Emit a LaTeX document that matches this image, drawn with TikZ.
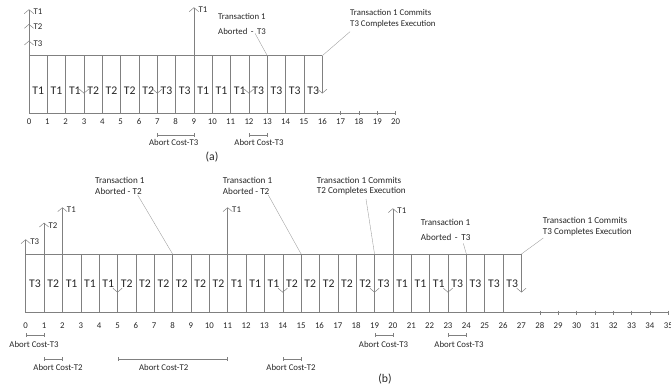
\documentclass[tikz,border=0pt]{standalone}
\usepackage{fontspec}
\setmainfont{Carlito}
\usetikzlibrary{arrows.meta}
\definecolor{linegray}{gray}{0.5}
\definecolor{textgray}{gray}{0.15}

\begin{document}
\begin{tikzpicture}[x=0.03cm, y=-0.03cm, >={Straight Barb[length=1.2mm, width=2.8mm]},
    every node/.style={text=textgray, inner sep=0pt},
    slot/.style={font=\fontsize{10}{12}\selectfont},
    num/.style={font=\fontsize{7.5}{9}\selectfont},
    note/.style={font=\fontsize{7.5}{9}\selectfont, anchor=west},
    bignote/.style={font=\fontsize{7.8}{9}\selectfont, anchor=west},
    rule/.style={draw=linegray, line width=0.4pt},
    lead/.style={draw=linegray!80, line width=0.3pt},
    cost/.style={draw=linegray, line width=0.3pt, {Bar[width=1.1mm]}-{Bar[width=1.1mm]}}]
    \useasboundingbox (0,0) rectangle (671,391);

    % (a)
    \def\aX{29} \def\aD{18.33} \def\aTop{55.7} \def\aBot{113}
    \foreach \i in {0,...,20} {
        \coordinate (at\i) at ({\aX+\aD*\i},\aTop);
        \coordinate (ab\i) at ({\aX+\aD*\i},\aBot);
        \coordinate (av\i) at ({\aX+\aD*\i},93.5);
        \node[num] (an\i) at ({\aX+\aD*\i},122) {\i};
    }
    \draw[rule] (at0) -- (at16);
    \draw[rule] (ab0) -- (ab20);
    \foreach \i in {0,...,15} \draw[rule] (at\i) -- (ab\i);
    \foreach \i in {17,...,20} \draw[rule] ([yshift=0.6mm]ab\i) -- ([yshift=-0.6mm]ab\i);
    \foreach \t [count=\i from 0] in {T1,T1,T1,T2,T2,T2,T2,T3,T3,T1,T1,T1,T3,T3,T3,T3}
        \node[slot] (aslot\i) at ({\aX+\aD*(\i+0.5)},91) {\t};
    \foreach \i in {3,7,12,16} \draw[rule,->] (at\i) -- (av\i);
    \foreach \i/\y/\t in {0/9.3/T1, 0/24/T2, 0/40.7/T3, 9/7.3/T1} {
        \coordinate (au\i\t) at ({\aX+\aD*\i},\y);
        \draw[rule,->] (at\i) -- (au\i\t);
        \node[note] (al\i\t) at ([xshift=1.3mm, yshift=-0.75mm]au\i\t) {\t};
    }

    \node[note] (aabort) at (218,16.7) {Transaction 1};
    \node[note] (aabortb) at (218,31) {Aborted\, - \,T3};
    \coordinate (aabortc) at (255,33.3);
    \draw[lead] (aabortc) -- (at13);
    \node[note] (acommit) at (350,12.3) {Transaction 1 Commits};
    \node[note] (acommitb) at (350,24) {T3 Completes Execution};
    \coordinate (acommitc) at (350,31.7);
    \draw[lead] (at16) -- (acommitc);

    \foreach \l/\r/\c in {7/9/173.7, 12/13/259} {
        \coordinate (akl\l) at ({\aX+\aD*\l},135);
        \coordinate (akr\l) at ({\aX+\aD*\r},135);
        \draw[cost] (akl\l) -- (akr\l);
        \node[num] (akt\l) at (\c,142) {Abort Cost-T3};
    }
    \node[font=\fontsize{10}{12}\selectfont] (capa) at (212,156.7) {(a)};

    % (b)
    \def\bX{25.7} \def\bD{18.36} \def\bTop{254} \def\bBot{312.5}
    \foreach \i in {0,...,35} {
        \coordinate (bt\i) at ({\bX+\bD*\i},\bTop);
        \coordinate (bb\i) at ({\bX+\bD*\i},\bBot);
        \coordinate (bv\i) at ({\bX+\bD*\i},292.5);
        \node[num] (bn\i) at ({\bX+\bD*\i},326) {\i};
    }
    \draw[rule] (bt0) -- (bt27);
    \draw[rule] (bb0) -- (bb35);
    \foreach \i in {0,...,26} \draw[rule] (bt\i) -- (bb\i);
    \foreach \i in {28,...,35} \draw[rule] ([yshift=0.6mm]bb\i) -- ([yshift=-0.6mm]bb\i);
    \foreach \t [count=\i from 0] in {T3,T2,T1,T1,T1,T2,T2,T2,T2,T2,T2,T1,T1,T1,T2,T2,T2,T2,T2,T3,T1,T1,T1,T3,T3,T3,T3}
        \node[slot] (bslot\i) at ({\bX+\bD*(\i+0.5)},284) {\t};
    \foreach \i in {5,14,19,23,27} \draw[rule,->] (bt\i) -- (bv\i);
    \foreach \i/\y/\t in {0/239.3/T3, 1/222.7/T2, 2/207.3/T1, 11/207.3/T1, 20/208.3/T1} {
        \coordinate (bu\i\t) at ({\bX+\bD*\i},\y);
        \draw[rule,->] (bt\i) -- (bu\i\t);
        \node[note] (bl\i\t) at ([xshift=1.3mm, yshift=-0.75mm]bu\i\t) {\t};
    }

    \foreach \n/\x/\ya/\yb/\la/\lb/\cx/\cy/\to in {
            1/95/180/191.5/Transaction 1/Aborted - T2/137.7/195/8,
            2/222.7/180/191.5/Transaction 1/Aborted - T2/268.3/195/15,
            3/316.7/180/191.5/Transaction 1 Commits/T2 Completes Execution/366/199/19,
            4/420.7/222.7/237.3/Transaction 1/Aborted\, - \,T3/463.3/243.3/24,
            5/542.7/220.7/232.3/Transaction 1 Commits/T3 Completes Execution/543.3/238/27} {
        \node[bignote] (bnote\n) at (\x,\ya) {\la};
        \node[bignote] (bnote\n b) at (\x,\yb) {\lb};
        \coordinate (blead\n) at (\cx,\cy);
        \draw[lead] (blead\n) -- (bt\to);
    }

    \foreach \l/\r/\y/\c/\t in {0/1/335.3/34/T3, 19/20/335.3/383.5/T3, 23/24/335.3/459/T3,
            1/2/359/58/T2, 5/11/359/163.7/T2, 14/15/359/291/T2} {
        \coordinate (bkl\l) at ({\bX+\bD*\l},\y);
        \coordinate (bkr\l) at ({\bX+\bD*\r},\y);
        \draw[cost] (bkl\l) -- (bkr\l);
        \node[num] (bkt\l) at (\c,\y+8.8) {Abort Cost-\t};
    }
    \node[font=\fontsize{10}{12}\selectfont] (capb) at (385,379.5) {(b)};
\end{tikzpicture}
\end{document}
